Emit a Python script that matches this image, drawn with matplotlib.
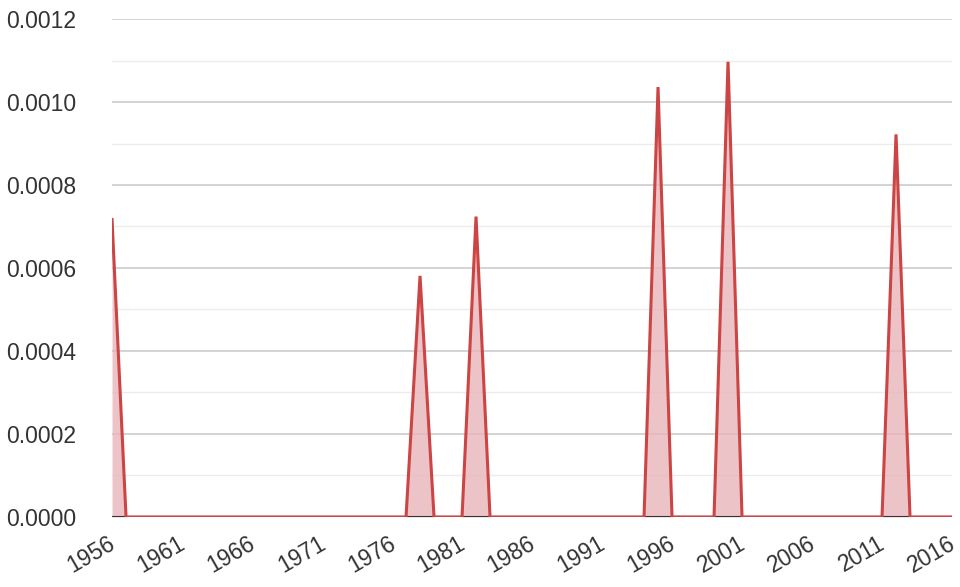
import numpy as np
import matplotlib.pyplot as plt
from matplotlib.ticker import MultipleLocator, FormatStrFormatter

# yearly values, 1956-2016 (zero except peak years)
years = list(range(1956, 2017))
peaks = {1956: 0.000717, 1978: 0.000581, 1982: 0.000724,
         1995: 0.001036, 2000: 0.001097, 2012: 0.000922}
values = [peaks.get(y, 0.0) for y in years]
xticks = list(range(1956, 2017, 5))

plt.rcParams['font.family'] = ['Liberation Sans', 'DejaVu Sans']

fig = plt.figure(figsize=(9.6, 5.87), dpi=100)
ax = fig.add_axes([0.1167, 0.1193, 0.875, 0.8483])

ax.fill_between(years, values, 0, color='#e8b4b8', alpha=0.8, lw=0)
ax.plot(years, values, color='#cc4444', lw=2.2, solid_joinstyle='miter', zorder=3)
ax.axhline(0, color='#333333', lw=1.5, zorder=2)

ax.set_xlim(1956, 2016)
ax.set_ylim(0, 0.0012)
ax.yaxis.set_major_locator(MultipleLocator(0.0002))
ax.yaxis.set_minor_locator(MultipleLocator(0.0001))
ax.yaxis.set_major_formatter(FormatStrFormatter('%.4f'))
ax.grid(which='major', axis='y', color='#cccccc', lw=1.2)
ax.grid(which='minor', axis='y', color='#ececec', lw=1.0)
ax.set_axisbelow(True)

# x labels drawn by hand so their right end sits just left of the tick
ax.set_xticks(xticks)
ax.set_xticklabels([])
for x in xticks:
    ax.annotate(str(x), xy=(x, 0), xycoords=('data', 'axes fraction'),
                xytext=(-3, -11), textcoords='offset points',
                rotation=30, ha='right', va='top', rotation_mode='anchor',
                fontsize=16.5, color='#333333')

for s in ax.spines.values():
    s.set_visible(False)
ax.tick_params(axis='both', which='both', length=0, labelsize=16.5, colors='#333333')
ax.tick_params(axis='y', pad=26)

fig.savefig('out.png', dpi=100)
